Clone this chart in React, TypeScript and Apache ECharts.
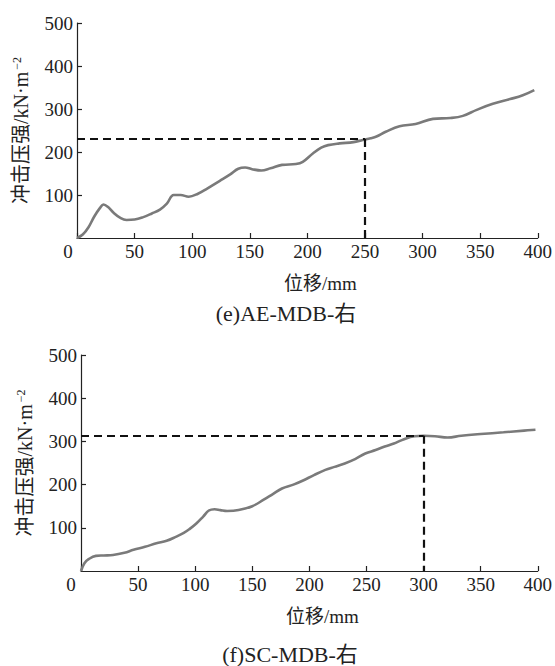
import React, { useEffect, useRef } from "react";
import * as echarts from "echarts";

// ---- data (e) AE-MDB-右 ----
const dispE = [0, 5, 10, 15, 20, 23, 27, 32, 38, 43, 50, 57, 65, 72, 78, 84, 90, 97, 105, 113, 124, 133, 140, 146, 152, 160, 168, 178, 190, 196, 205, 212, 218, 228, 240, 248, 255, 260, 268, 280, 294, 309, 324, 335, 347, 361, 376, 387, 397];
const pressE = [0, 8, 25, 50, 70, 78, 72, 58, 46, 42, 43, 48, 57, 66, 80, 100, 100, 96, 103, 115, 133, 148, 161, 164, 160, 157, 162, 170, 172, 177, 197, 210, 216, 220, 223, 228, 232, 236, 247, 260, 265, 277, 279, 284, 298, 312, 323, 332, 344];
const markE = [250, 230];

// ---- data (f) SC-MDB-右 ----
const dispF = [0, 3, 7, 13, 20, 28, 38, 46, 56, 66, 75, 83, 90, 95, 101, 107, 112, 117, 122, 128, 138, 150, 160, 168, 176, 186, 194, 204, 214, 222, 231, 240, 249, 258, 266, 274, 281, 292, 300, 310, 321, 333, 350, 370, 388, 398];
const pressF = [0, 18, 28, 35, 36, 37, 42, 49, 56, 64, 70, 79, 88, 97, 110, 126, 140, 143, 141, 139, 141, 150, 165, 178, 191, 200, 209, 222, 234, 241, 249, 259, 272, 280, 288, 295, 303, 312, 313, 312, 309, 313, 317, 321, 325, 327];
const markF = [300, 313];

const xRange = [0, 400, 50];
const yRange = [0, 500, 100];
const yName = "冲击压强/kN·m{sup|−2}";
const xName = "位移/mm";
const captions = ["(e)AE-MDB-右", "(f)SC-MDB-右"];

const FONT = "Liberation Serif, Noto Sans CJK SC, serif";

export default function App() {
  const ref = useRef<HTMLDivElement>(null);
  useEffect(() => {
    document.body.style.margin = "0";
    const chart = echarts.init(ref.current!, null, { renderer: "svg" });
    const grids = [
      { left: 77, top: 23, width: 461, height: 215 },
      { left: 81, top: 355, width: 460, height: 216 },
    ];
    const zeroShift = [18, 20];
    const xAxes = grids.map((_, i) => ({
      type: "value",
      gridIndex: i,
      min: xRange[0],
      max: xRange[1],
      interval: xRange[2],
      name: xName,
      nameLocation: "middle",
      nameGap: 36,
      nameTextStyle: { fontSize: 19, color: "#222", fontFamily: FONT, padding: [0, 0, 0, 26] },
      axisLine: { show: true, lineStyle: { color: "#222", width: 1.2 } },
      axisTick: { show: true, inside: true, length: 5, lineStyle: { color: "#222", width: 1.2 } },
      splitLine: { show: false },
      axisLabel: {
        color: "#222",
        fontSize: 19,
        fontFamily: FONT,
        margin: 4,
        formatter: (v: number) => (v === 0 ? "{z|0}" : String(v)),
        rich: { z: { fontSize: 19, fontFamily: FONT, color: "#222", padding: [0, zeroShift[i], 0, 0] } },
      },
    }));
    const yAxes = grids.map((_, i) => ({
      type: "value",
      gridIndex: i,
      min: yRange[0],
      max: yRange[1],
      interval: yRange[2],
      name: yName,
      nameLocation: "middle",
      nameGap: 46,
      nameTextStyle: {
        fontSize: 20,
        color: "#222",
        fontFamily: FONT,
        rich: { sup: { fontSize: 12, fontFamily: FONT, color: "#222", verticalAlign: "top", padding: [0, 0, 8, 2] } },
      },
      axisLine: { show: true, lineStyle: { color: "#222", width: 1.2 } },
      axisTick: { show: true, inside: true, length: 5, lineStyle: { color: "#222", width: 1.2 } },
      splitLine: { show: false },
      axisLabel: { color: "#222", fontSize: 19, fontFamily: FONT, margin: 4, showMinLabel: false },
    }));
    const mk = (m: number[]) => ({
      symbol: "none",
      silent: true,
      label: { show: false },
      lineStyle: { color: "#111", type: [8, 5], width: 2.2 },
      data: [
        [{ coord: [0, m[1]] }, { coord: [m[0], m[1]] }],
        [{ coord: [m[0], m[1]] }, { coord: [m[0], 0] }],
      ],
    });
    const series = [
      {
        type: "line",
        xAxisIndex: 0,
        yAxisIndex: 0,
        data: dispE.map((x, i) => [x, pressE[i]]),
        smooth: 0.4,
        showSymbol: false,
        lineStyle: { color: "#7a7a7a", width: 2.6 },
        markLine: mk(markE),
      },
      {
        type: "line",
        xAxisIndex: 1,
        yAxisIndex: 1,
        data: dispF.map((x, i) => [x, pressF[i]]),
        smooth: 0.4,
        showSymbol: false,
        lineStyle: { color: "#7a7a7a", width: 2.6 },
        markLine: mk(markF),
      },
    ];
    chart.setOption({
      animation: false,
      backgroundColor: "#fff",
      grid: grids,
      xAxis: xAxes,
      yAxis: yAxes,
      series,
      graphic: [
        { type: "text", x: 286, y: 313, style: { text: captions[0], fontSize: 22, fontFamily: FONT, fill: "#222", align: "center", verticalAlign: "middle" } },
        { type: "text", x: 290, y: 654, style: { text: captions[1], fontSize: 22, fontFamily: FONT, fill: "#222", align: "center", verticalAlign: "middle" } },
      ],
    });
    return () => chart.dispose();
  }, []);
  return <div ref={ref} style={{ width: 555, height: 666 }} />;
}
